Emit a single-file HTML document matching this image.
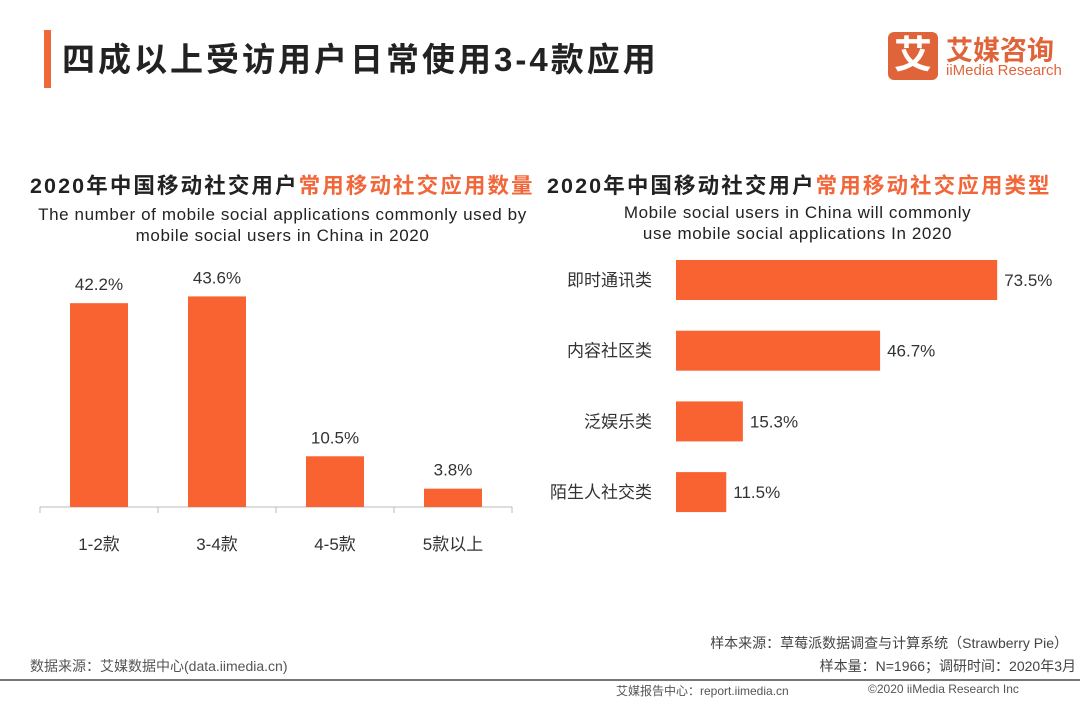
<!DOCTYPE html>
<html><head><meta charset="utf-8">
<style>
body{margin:0;width:1080px;height:702px;background:#fff;position:relative;overflow:hidden;font-family:"Liberation Sans","Noto Sans CJK SC",sans-serif;color:#222}
.a{position:absolute;white-space:nowrap}
</style></head><body>
<div class="a" style="left:44px;top:30px;width:7px;height:58px;background:#f0673a"></div>
<div class="a" style="left:62px;top:33px;font-size:33px;letter-spacing:3px;font-weight:bold;color:#222">四成以上受访用户日常使用3-4款应用</div>
<div class="a" style="left:888px;top:32px;width:50px;height:48px;background:#e0643a;border-radius:6px;color:#fff;font-size:38px;font-weight:bold;text-align:center;line-height:48px">艾</div>
<div class="a" style="left:946px;top:29px;font-size:27px;font-weight:bold;color:#e0643a">艾媒咨询</div>
<div class="a" style="left:946px;top:62px;font-size:15px;color:#e0643a">iiMedia Research</div>

<div class="a" style="left:30px;top:169px;font-size:21.5px;letter-spacing:2.1px;font-weight:bold">2020年中国移动社交用户<span style="color:#f2673a">常用移动社交应用数量</span></div>
<div class="a" style="left:20px;top:204px;width:525px;text-align:center;font-size:17px;letter-spacing:0.6px;line-height:21px">The number of mobile social applications commonly used by<br>mobile social users in China in 2020</div>
<div class="a" style="left:547px;top:169px;font-size:21.5px;letter-spacing:2.1px;font-weight:bold">2020年中国移动社交用户<span style="color:#f2673a">常用移动社交应用类型</span></div>
<div class="a" style="left:560px;top:202px;width:475px;text-align:center;font-size:17px;letter-spacing:0.6px;line-height:21px">Mobile social users in China will commonly<br>use mobile social applications In 2020</div>

<svg class="a" style="left:0;top:0" width="1080" height="702">
<g id="left"></g><g id="right"></g>
<line x1="0" y1="680" x2="1080" y2="680" stroke="#777" stroke-width="2"/>
</svg>

<div class="a" style="right:12px;top:633px;font-size:14px;color:#444">样本来源：草莓派数据调查与计算系统（Strawberry Pie）</div>
<div class="a" style="right:4px;top:656px;font-size:14px;color:#444">样本量：N=1966；调研时间：2020年3月</div>
<div class="a" style="left:30px;top:656px;font-size:14px;color:#555">数据来源：艾媒数据中心(data.iimedia.cn)</div>
<div class="a" style="left:616px;top:682px;font-size:12px;color:#555">艾媒报告中心：report.iimedia.cn</div>
<div class="a" style="left:868px;top:682px;font-size:12px;color:#555">©2020 iiMedia Research Inc</div>

<script>
const leftCats=["1-2款","3-4款","4-5款","5款以上"];
const leftVals=[42.2,43.6,10.5,3.8];
const rightCats=["即时通讯类","内容社区类","泛娱乐类","陌生人社交类"];
const rightVals=[73.5,46.7,15.3,11.5];
const NS="http://www.w3.org/2000/svg";
const C="#f96332";
function mk(p,t,a,txt){const e=document.createElementNS(NS,t);for(const k in a)e.setAttribute(k,a[k]);if(txt!=null)e.textContent=txt;p.appendChild(e);return e;}
const L=document.getElementById('left');
const base=507,x0=40,step=118,bw=58;
const ly=v=>base-v*4.83;
mk(L,'line',{x1:x0,y1:base,x2:x0+step*4,y2:base,stroke:'#bbb'});
for(let i=0;i<=4;i++)mk(L,'line',{x1:x0+i*step,y1:base,x2:x0+i*step,y2:base+6,stroke:'#bbb'});
leftVals.forEach((v,i)=>{
 const cx=x0+step*i+step/2;
 const r=mk(L,'rect',{x:cx-bw/2,y:ly(v),width:bw,height:base-ly(v),fill:C});
 
 
 const t=mk(L,'text',{x:cx,y:ly(v)-13,'text-anchor':'middle','font-size':17,fill:'#333'},v.toFixed(1)+'%');
 
 
 const c=mk(L,'text',{x:cx,y:550,'text-anchor':'middle','font-size':17,fill:'#333'},leftCats[i]);
 
 
});
const R=document.getElementById('right');
const ax=676,pitch=70.7,bh=40,top0=260;
const rx=v=>v*4.37;
rightVals.forEach((v,i)=>{
 const y=top0+pitch*i;
 const r=mk(R,'rect',{x:ax,y:y,width:rx(v),height:bh,fill:C});
 
 
 const t=mk(R,'text',{x:ax+rx(v)+7,y:y+bh/2+6,'font-size':17,fill:'#333'},v.toFixed(1)+'%');
 
 
 const c=mk(R,'text',{x:652,y:y+bh/2+6,'text-anchor':'end','font-size':17,fill:'#333'},rightCats[i]);
 
 
});
</script>
</body></html>
